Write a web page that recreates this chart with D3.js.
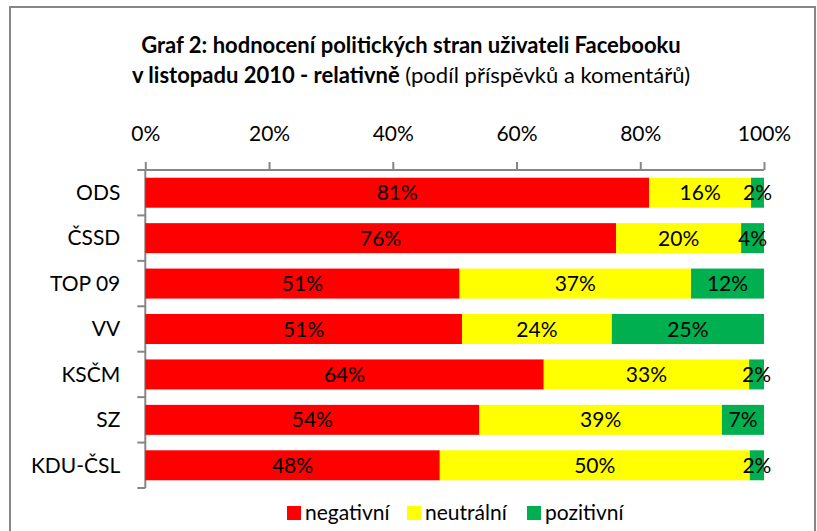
<!DOCTYPE html>
<html>
<head>
<meta charset="utf-8">
<script src="https://cdn.jsdelivr.net/npm/d3@7"></script>
<style>
  body { margin: 0; background: #fff; }
  svg text { font-family: Lato, "Open Sans", sans-serif; }
</style>
</head>
<body>
<div id="chart"></div>
<script>
// hodnoceni stran - relativne (podil v %)
var categories = ['ODS', 'ČSSD', 'TOP 09', 'VV', 'KSČM', 'SZ', 'KDU-ČSL'];
var negativni = [81.45, 76.1, 50.8, 51.2, 64.4, 54.0, 47.6];
var neutralni = [16.45, 20.2, 37.4, 24.2, 33.2, 39.2, 50.1];
var pozitivni = [2.1, 3.7, 11.8, 24.6, 2.4, 6.8, 2.3];
var seriesNames = ['negativní', 'neutrální', 'pozitivní'];
var tickValues = [0, 20, 40, 60, 80, 100];

var colors = ['#ff0000', '#ffff00', '#00b050'];
var W = 817, H = 531;

var svg = d3.select('#chart').append('svg')
  .attr('width', W).attr('height', H);

// ramecek
svg.append('rect')
  .attr('x', 10).attr('y', 7).attr('width', 805).attr('height', 540)
  .style('fill', '#fff').style('stroke', '#878787').style('stroke-width', 2);

// titulek
var title = svg.append('text')
  .attr('x', 411).attr('y', 53)
  .attr('text-anchor', 'middle')
  .style('font-size', '22px').style('font-weight', 'bold').style('fill', '#000');
title.append('tspan').text('Graf 2: hodnocení politických stran uživateli Facebooku');
var t2 = svg.append('text')
  .attr('x', 411).attr('y', 83)
  .attr('text-anchor', 'middle')
  .style('font-size', '22px').style('fill', '#000');
t2.append('tspan').style('font-weight', 'bold').text('v listopadu 2010 - relativně');
t2.append('tspan').text(' (podíl příspěvků a komentářů)');

var x = d3.scaleLinear().domain([0, 100]).range([145.3, 764]);
var y = d3.scaleBand().domain(categories).range([170, 488])
  .paddingInner(0.34).paddingOuter(0.17);

// horni osa
var xAxis = d3.axisTop(x).tickValues(tickValues)
  .tickFormat(function(d) { return d + '%'; })
  .tickSize(8).tickPadding(21);
var gx = svg.append('g').attr('transform', 'translate(0,170)').call(xAxis);
gx.select('.domain').attr('d', 'M' + x(0) + ',0H' + x(100)).style('stroke', '#868686').style('stroke-width', 2);
gx.selectAll('.tick line').style('stroke', '#868686').style('stroke-width', 2);
gx.selectAll('.tick text').style('font-size', '21px').style('fill', '#000').style('font-family', 'Lato, sans-serif');

// leva osa
var gy = svg.append('g').attr('transform', 'translate(' + x(0) + ',0)');
gy.append('line').attr('x1', 0).attr('x2', 0).attr('y1', 170).attr('y2', 488)
  .style('stroke', '#868686').style('stroke-width', 2);
var bounds = categories.map(function(c) { return y(c) - y.step() * y.paddingInner() / 2; });
bounds.push(488);
gy.selectAll('line.tk').data(bounds).enter().append('line').attr('class', 'tk')
  .attr('x1', -8).attr('x2', 0).attr('y1', function(d) { return d; }).attr('y2', function(d) { return d; })
  .style('stroke', '#868686').style('stroke-width', 2);
gy.selectAll('text').data(categories).enter().append('text')
  .attr('x', -25).attr('y', function(d) { return y(d) + y.bandwidth() / 2; })
  .attr('dy', '0.35em').attr('text-anchor', 'end')
  .style('font-size', '21px').style('fill', '#000')
  .text(function(d) { return d; });

// skladane pruhy
var rows = categories.map(function(c, i) {
  return { cat: c, vals: [negativni[i], neutralni[i], pozitivni[i]] };
});
var segs = [];
rows.forEach(function(r) {
  var acc = 0;
  r.vals.forEach(function(v, k) {
    segs.push({ cat: r.cat, k: k, x0: acc, x1: acc + v, v: v });
    acc += v;
  });
});

var g = svg.append('g');
g.selectAll('rect').data(segs).enter().append('rect')
  .attr('x', function(d) { return x(d.x0); })
  .attr('y', function(d) { return y(d.cat); })
  .attr('width', function(d) { return x(d.x1) - x(d.x0); })
  .attr('height', y.bandwidth())
  .style('fill', function(d) { return colors[d.k]; });

g.selectAll('text').data(segs).enter().append('text')
  .attr('x', function(d) { return (x(d.x0) + x(d.x1)) / 2; })
  .attr('y', function(d) { return y(d.cat) + y.bandwidth() / 2; })
  .attr('dy', '0.36em').attr('text-anchor', 'middle')
  .style('font-size', '21px').style('fill', '#000')
  .text(function(d) { return Math.round(d.v) + '%'; });

// legenda
var legX = [287, 407, 527];
var leg = svg.append('g');
seriesNames.forEach(function(s, i) {
  leg.append('rect').attr('x', legX[i]).attr('y', 506).attr('width', 14).attr('height', 14)
    .style('fill', colors[i]);
  leg.append('text').attr('x', legX[i] + 18).attr('y', 513).attr('dy', '0.35em')
    .style('font-size', '21px').style('fill', '#000').text(s);
});
</script>
</body>
</html>
